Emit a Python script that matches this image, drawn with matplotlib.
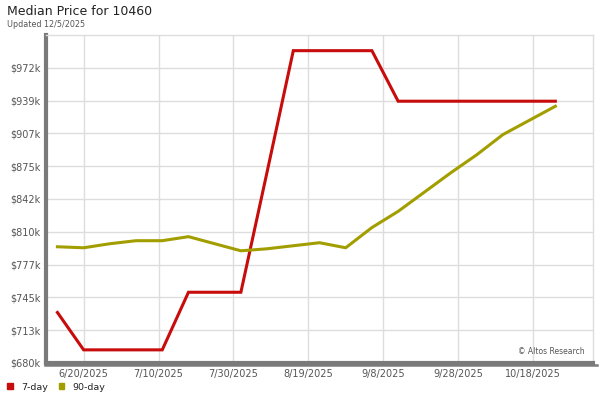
import numpy as np
import matplotlib
matplotlib.use("Agg")
import matplotlib.pyplot as plt
import matplotlib.dates as mdates
import pandas as pd
from matplotlib.lines import Line2D

# weekly data, values in $k
dates = pd.date_range("2025-06-13", "2025-10-24", freq="7D")
price_7day = [730, 693, 693, 693, 693, 750, 750, 750, 869, 989,
              989, 989, 989, 939, 939, 939, 939, 939, 939, 939]
price_90day = [795, 794, 798, 801, 801, 805, 798, 791, 793, 796,
               799, 794, 814, 830, 849, 868, 886, 906, 920, 934]

ytick_vals = [680, 712.45, 744.9, 777.35, 809.8, 842.25, 874.7, 907.15, 939.6, 972.05]
ytick_labels = ["$680k", "$713k", "$745k", "$777k", "$810k",
                "$842k", "$875k", "$907k", "$939k", "$972k"]
xtick_dates = pd.to_datetime(["2025-06-20", "2025-07-10", "2025-07-30", "2025-08-19",
                              "2025-09-08", "2025-09-28", "2025-10-18"])
xtick_labels = ["6/20/2025", "7/10/2025", "7/30/2025", "8/19/2025",
                "9/8/2025", "9/28/2025", "10/18/2025"]

red = "#c80b0b"
olive = "#a39e00"

fig = plt.figure(figsize=(6, 4), dpi=100)
ax = fig.add_axes([0.077, 0.0925, 0.911, 0.82])

ax.plot(dates, price_7day, color=red, lw=2.2, solid_joinstyle="miter")
ax.plot(dates, price_90day, color=olive, lw=2.2)

ax.set_ylim(680, 1004.5)
ax.set_xlim(pd.Timestamp("2025-06-10"), pd.Timestamp("2025-11-03"))
ax.set_yticks(ytick_vals)
ax.set_yticklabels(ytick_labels)
ax.set_xticks(xtick_dates)
ax.set_xticklabels(xtick_labels)
ax.tick_params(length=0, labelsize=7, labelcolor="#555555", pad=4)
ax.grid(True, color="#dddddd", lw=1)
ax.set_axisbelow(True)

for s in ["top", "right"]:
    ax.spines[s].set_color("#dddddd")
    ax.spines[s].set_linewidth(1)
for s in ["left", "bottom"]:
    ax.spines[s].set_color("#7a7a7a")
    ax.spines[s].set_linewidth(3)

# shadow of bottom axis running past the frame
fig.add_artist(Line2D([0.075, 0.995], [0.0885, 0.0885], color="#7a7a7a", lw=1.8))

fig.text(0.012, 0.962, "Median Price for 10460", fontsize=9, color="#222222")
fig.text(0.012, 0.932, "Updated 12/5/2025", fontsize=5.8, color="#555555")
ax.text(0.985, 0.02, "\u00a9 Altos Research", transform=ax.transAxes,
        ha="right", va="bottom", fontsize=5.5, color="#555555")

# legend
fig.add_artist(plt.Rectangle((0.012, 0.028), 0.009, 0.0135, color=red))
fig.text(0.036, 0.026, "7-day", fontsize=6.8, color="#222222")
fig.add_artist(plt.Rectangle((0.098, 0.028), 0.009, 0.0135, color=olive))
fig.text(0.12, 0.026, "90-day", fontsize=6.8, color="#222222")

fig.savefig("out.png", dpi=100)
